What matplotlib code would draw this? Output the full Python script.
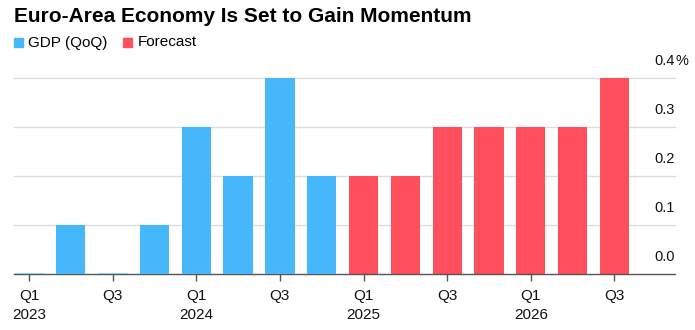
import numpy as np
import matplotlib
matplotlib.use("Agg")
import matplotlib.pyplot as plt
from matplotlib.patches import Rectangle
import matplotlib.transforms as mtransforms

plt.rcParams['font.family'] = ['Liberation Sans', 'DejaVu Sans']

# data
quarters = ['Q1', 'Q2', 'Q3', 'Q4'] * 3 + ['Q1', 'Q2', 'Q3']
years = [2023] * 4 + [2024] * 4 + [2025] * 4 + [2026] * 3
gdp = [0.0, 0.1, 0.0, 0.1, 0.3, 0.2, 0.4, 0.2]
forecast = [0.2, 0.2, 0.3, 0.3, 0.3, 0.3, 0.4]
yticks = [0.0, 0.1, 0.2, 0.3, 0.4]

blue = '#45b7fa'
red = '#ff4f5c'

fig = plt.figure(figsize=(6.95, 3.3), dpi=100)
ax = fig.add_axes([14 / 695, 1 - 274 / 330, 661 / 695, 0.42 * 491 / 330])

x_gdp = np.arange(len(gdp))
x_fc = np.arange(len(gdp), len(gdp) + len(forecast))

# zero-valued quarters still show as a thin line
edge = ['#8fd2fb' if v == 0 else 'none' for v in gdp]
ax.bar(x_gdp, gdp, width=0.7, color=blue, edgecolor=edge, linewidth=2.2, zorder=5)
ax.bar(x_fc, forecast, width=0.7, color=red, linewidth=0, zorder=3)

ax.set_xlim(-0.36, 15.45)
ax.set_ylim(0, 0.42)

# gridlines and right-side labels above them
trans = mtransforms.blended_transform_factory(ax.transAxes, ax.transData)
for t in yticks:
    if t > 0:
        ax.axhline(t, color='#dcdcdc', linewidth=1, zorder=1, clip_on=False)
    ax.annotate(f'{t:.1f}', xy=(1, t), xycoords=trans, xytext=(0, 7),
                textcoords='offset points', ha='right', va='bottom',
                fontsize=10.5, color='#111111')
ax.annotate('%', xy=(1, 0.4), xycoords=trans, xytext=(0, 7),
            textcoords='offset points', ha='left', va='bottom',
            fontsize=10.5, color='#111111')

for s in ['top', 'right', 'left']:
    ax.spines[s].set_visible(False)
ax.spines['bottom'].set_color('#555555')
ax.spines['bottom'].set_linewidth(1)
ax.spines['bottom'].set_zorder(4)

allx = np.arange(len(quarters))
tick_pos = allx[::2]
labels = []
for i in tick_pos:
    if quarters[i] == 'Q1':
        labels.append(f'{quarters[i]}\n{years[i]}')
    else:
        labels.append(f'{quarters[i]}\n ')
ax.set_xticks(tick_pos)
ax.set_xticklabels(labels, fontsize=11, color='#111111', linespacing=1.45)
ax.tick_params(axis='x', length=5, width=1, color='#555555', pad=6)
ax.set_yticks([])

# title and legend
fig.text(14 / 695, 1 - 17 / 330, 'Euro-Area Economy Is Set to Gain Momentum',
         fontsize=15, fontweight='bold', va='center', ha='left', color='#000000')
fig.patches.append(Rectangle((14 / 695, 1 - 47 / 330), 9 / 695, 9 / 330,
                             transform=fig.transFigure, color=blue))
fig.text(28 / 695, 1 - 42.5 / 330, 'GDP (QoQ)', fontsize=11, va='center', ha='left')
fig.patches.append(Rectangle((123 / 695, 1 - 47 / 330), 9 / 695, 9 / 330,
                             transform=fig.transFigure, color=red))
fig.text(138 / 695, 1 - 42.5 / 330, 'Forecast', fontsize=11, va='center', ha='left')

fig.savefig('out.png', dpi=100)
